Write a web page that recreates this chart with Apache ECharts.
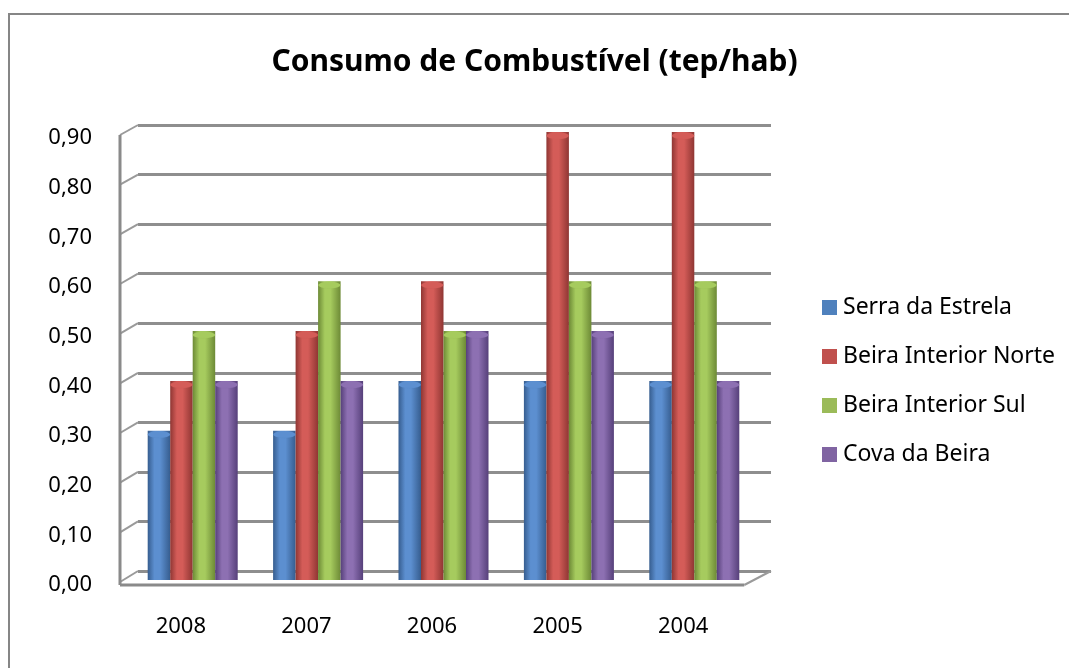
<!DOCTYPE html>
<html>
<head>
<meta charset="utf-8">
<script src="https://cdn.jsdelivr.net/npm/echarts@6/dist/echarts.min.js"></script>
<style>
  html, body { margin: 0; padding: 0; background: #fff; }
  #chart { width: 1069px; height: 668px; }
</style>
</head>
<body>
<div id="chart"></div>
<script>
// dados
const anos = ['2008', '2007', '2006', '2005', '2004'];
const serraEstrela = [0.30, 0.30, 0.40, 0.40, 0.40];
const beiraNorte = [0.40, 0.50, 0.60, 0.90, 0.90];
const beiraSul = [0.50, 0.60, 0.50, 0.60, 0.60];
const covaBeira = [0.40, 0.40, 0.50, 0.50, 0.40];
const nomes = ['Serra da Estrela', 'Beira Interior Norte', 'Beira Interior Sul', 'Cova da Beira'];
const valores = [serraEstrela, beiraNorte, beiraSul, covaBeira];

// cores (escuro, claro, base)
const cores = [
  ['#365d8f', '#5c8fd0', '#4f81bd'],
  ['#8f3633', '#d45c58', '#c0504d'],
  ['#6d8a36', '#a6cb5e', '#9bbb59'],
  ['#56407a', '#8d70b2', '#8064a2'],
];

const FONT = 'Noto Sans';
const BAR_W = 22.5;

function cilindro(c) {
  return new echarts.graphic.LinearGradient(0, 0, 1, 0, [
    { offset: 0, color: c[0] },
    { offset: 0.3, color: c[1] },
    { offset: 0.55, color: c[1] },
    { offset: 1, color: c[0] },
  ]);
}

const fmt = v => v.toFixed(2).replace('.', ',');

const chart = echarts.init(document.getElementById('chart'));

const series = [];
valores.forEach((vals, i) => {
  series.push({
    name: nomes[i],
    type: 'bar',
    xAxisIndex: 1,
    yAxisIndex: 1,
    data: vals,
    barWidth: BAR_W,
    barGap: '0%',
    itemStyle: { color: cilindro(cores[i]) },
    z: 3,
  });
});
// tampas dos cilindros
valores.forEach((vals, i) => {
  series.push({
    name: nomes[i] + '_tampa',
    type: 'pictorialBar',
    xAxisIndex: 1,
    yAxisIndex: 1,
    data: vals,
    symbol: 'circle',
    symbolSize: [BAR_W, 7],
    symbolPosition: 'end',
    symbolOffset: [(i - 1.5) * BAR_W, 0],
    itemStyle: { color: cores[i][1], borderColor: cores[i][0], borderWidth: 1 },
    z: 4,
    silent: true,
  });
});

const option = {
  backgroundColor: '#fff',
  animation: false,
  title: {
    text: 'Consumo de Combustível (tep/hab)',
    left: 'center',
    top: 47,
    padding: 0,
    textStyle: { fontFamily: FONT, fontSize: 30, fontWeight: 'bold', color: '#000' },
  },
  legend: {
    orient: 'vertical',
    left: 822,
    top: 295,
    padding: 0,
    itemWidth: 15,
    itemHeight: 15,
    itemGap: 24,
    icon: 'rect',
    data: nomes.map((n, i) => ({ name: n, itemStyle: { color: cores[i][2] } })),
    textStyle: { fontFamily: FONT, fontSize: 23, color: '#000', lineHeight: 25, padding: [0, 0, 0, 1] },
  },
  grid: [
    // parede de fundo
    { left: 138, right: 298, top: 125, bottom: 97 },
    // barras
    { left: 130, right: 312, top: 132, bottom: 88 },
    // eixos frontais
    { left: 118, right: 323, top: 138, bottom: 83 },
  ],
  xAxis: [
    { gridIndex: 0, type: 'category', data: anos, show: false },
    { gridIndex: 1, type: 'category', data: anos, show: false },
    {
      gridIndex: 2, type: 'category', data: anos,
      axisLine: { show: false },
      axisTick: { show: false },
      axisLabel: { margin: 31, fontFamily: FONT, fontSize: 22, color: '#000' },
    },
  ],
  yAxis: [
    {
      gridIndex: 0, type: 'value', min: 0, max: 0.9, interval: 0.1,
      axisLabel: { show: false }, axisLine: { show: false }, axisTick: { show: false },
      splitLine: { lineStyle: { color: '#8e8e8e', width: 3 } },
    },
    {
      gridIndex: 1, type: 'value', min: 0, max: 0.9, interval: 0.1,
      show: false, splitLine: { show: false },
    },
    {
      gridIndex: 2, type: 'value', min: 0, max: 0.9, interval: 0.1,
      axisLine: { show: false }, axisTick: { show: false },
      splitLine: { show: false },
      axisLabel: { margin: 26, align: 'right', padding: [5, 0, 0, 0], fontFamily: FONT, fontSize: 22, color: '#000', formatter: fmt },
    },
  ],
  series: series,
};

chart.setOption(option);

// perspectiva: ligações entre eixo frontal e parede de fundo, chão
const linhas = [];
const FX = 120;
const BX = 138;
for (let k = 0; k <= 9; k++) {
  const v = k / 10;
  const front = chart.convertToPixel({ yAxisIndex: 2 }, v) - 3;
  const back = chart.convertToPixel({ yAxisIndex: 0 }, v);
  linhas.push({
    type: 'line', z: 1,
    shape: { x1: FX, y1: front, x2: BX, y2: back },
    style: { stroke: '#9a9a9a', lineWidth: 2 },
  });
}
const f0 = chart.convertToPixel({ yAxisIndex: 2 }, 0);
const f9 = chart.convertToPixel({ yAxisIndex: 2 }, 0.9);
const b0 = chart.convertToPixel({ yAxisIndex: 0 }, 0);
const lastCat = chart.convertToPixel({ gridIndex: 1 }, ['2004', 0]);
const frontRight = lastCat[0] + 2 * BAR_W + 5;
const backRight = 771;
linhas.push(
  { type: 'line', z: 5, shape: { x1: FX, y1: f9 - 3, x2: FX, y2: f0 } , style: { stroke: '#8a8a8a', lineWidth: 3 } },
  { type: 'line', z: 5, shape: { x1: FX, y1: f0, x2: frontRight, y2: f0 }, style: { stroke: '#8a8a8a', lineWidth: 3 } },
  { type: 'line', z: 5, shape: { x1: frontRight, y1: f0, x2: backRight, y2: b0 }, style: { stroke: '#9a9a9a', lineWidth: 2 } },
  // moldura exterior
  { type: 'rect', z: 0, shape: { x: 9, y: 14, width: 1100, height: 700 }, style: { fill: 'none', stroke: '#868686', lineWidth: 2 } }
);
chart.setOption({ graphic: linhas });
</script>
</body>
</html>
